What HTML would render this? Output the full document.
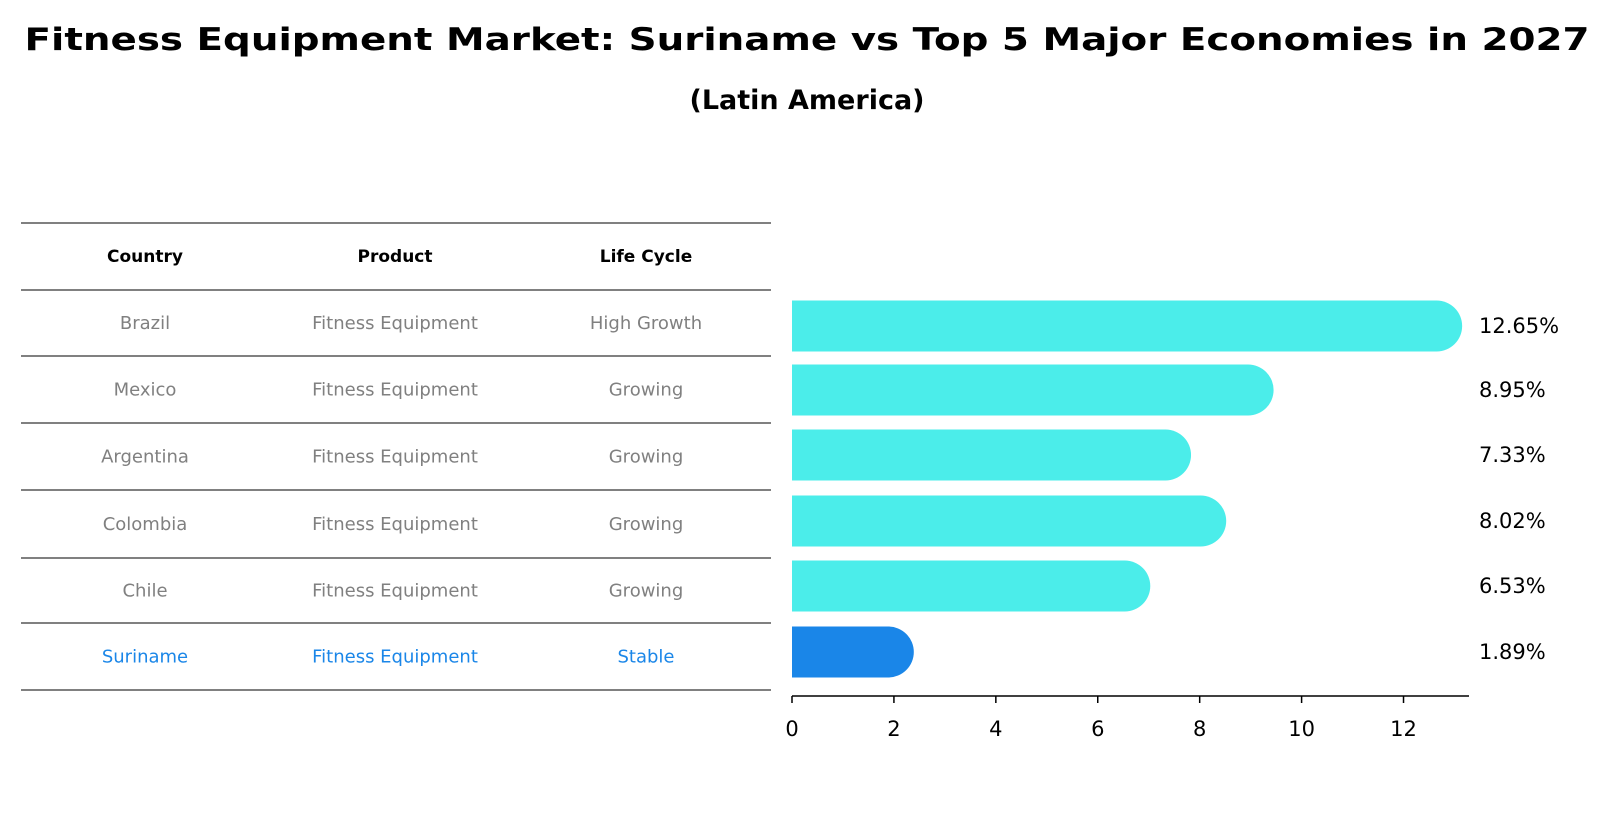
<!DOCTYPE html>
<html><head><meta charset="utf-8"><style>
html,body{margin:0;padding:0;background:#fff;width:1610px;height:823px;overflow:hidden}
svg{display:block;font-family:"DejaVu Sans","Liberation Sans",sans-serif}
</style></head><body>
<svg id="chart" width="1610" height="823" viewBox="0 0 1610 823" xmlns="http://www.w3.org/2000/svg">
<text x="807" y="50" text-anchor="middle" font-size="31" font-weight="bold" textLength="1565" lengthAdjust="spacingAndGlyphs">Fitness Equipment Market: Suriname vs Top 5 Major Economies in 2027</text>
<text x="807" y="109" text-anchor="middle" font-size="27" font-weight="bold">(Latin America)</text>
<g id="table"></g>
<g id="bars"></g>
</svg>
<script>
const countries=["Brazil","Mexico","Argentina","Colombia","Chile","Suriname"];
const products=["Fitness Equipment","Fitness Equipment","Fitness Equipment","Fitness Equipment","Fitness Equipment","Fitness Equipment"];
const lifeCycles=["High Growth","Growing","Growing","Growing","Growing","Stable"];
const growthValues=[12.65,8.95,7.33,8.02,6.53,1.89];
const xTicks=[0,2,4,6,8,10,12];

const NS="http://www.w3.org/2000/svg";
function mk(tag,attrs,parent,txt){const e=document.createElementNS(NS,tag);for(const k in attrs)e.setAttribute(k,attrs[k]);if(txt!==undefined)e.textContent=txt;parent.appendChild(e);return e;}
const table=document.getElementById('table');
const bars=document.getElementById('bars');
const lineYs=[223,290,356,423,490,558,623,690];
const colX=[145,395,646];
const hdr=["Country","Product","Life Cycle"];
for(const y of lineYs){
  const l=mk('line',{x1:21,x2:771,y1:y,y2:y,stroke:'#000','stroke-width':1},table);
  
  
}
hdr.forEach((h,i)=>{
  const t=mk('text',{x:colX[i],y:262,'text-anchor':'middle','font-size':17,'font-weight':'bold'},table,h);
  
  
});
function rowY(i){return (lineYs[i+1]+lineYs[i+2])/2;}
countries.forEach((c,i)=>{
  const col=c==="Suriname"?"#1a86e8":"#808080";
  const y=rowY(i)+6;
  [c,products[i],lifeCycles[i]].forEach((v,j)=>{
    const t=mk('text',{x:colX[j],y:y,'text-anchor':'middle','font-size':18,fill:col},table,v);
    
    
  });
});
// bars
const x0=792, unit=50.96, barH=51, r=25.5;
const xs=v=>x0+v*unit;
const barCenters=[326,390,455,521,586,652];
growthValues.forEach((v,i)=>{
  const cy=barCenters[i];
  const col=countries[i]==="Suriname"?"#1a86e8":"#4bedea";
  const xe=xs(v);
  const d=`M${x0},${cy-barH/2} L${xe},${cy-barH/2} A${r},${r} 0 0 1 ${xe},${cy+barH/2} L${x0},${cy+barH/2} Z`;
  const p=mk('path',{d:d,fill:col},bars);
  
  
  const t=mk('text',{x:1479,y:cy+7,'font-size':21},bars,v.toFixed(2)+'%');
  
  
});
const ax=mk('line',{x1:x0,x2:1469,y1:696,y2:696,stroke:'#000','stroke-width':1.5},bars);


xTicks.forEach(v=>{
  const tk=mk('line',{x1:xs(v),x2:xs(v),y1:696,y2:703,stroke:'#000','stroke-width':1.5},bars);
  
  
  const t=mk('text',{x:xs(v),y:736,'text-anchor':'middle','font-size':21},bars,String(v));
  
  
});
</script>
</body></html>
